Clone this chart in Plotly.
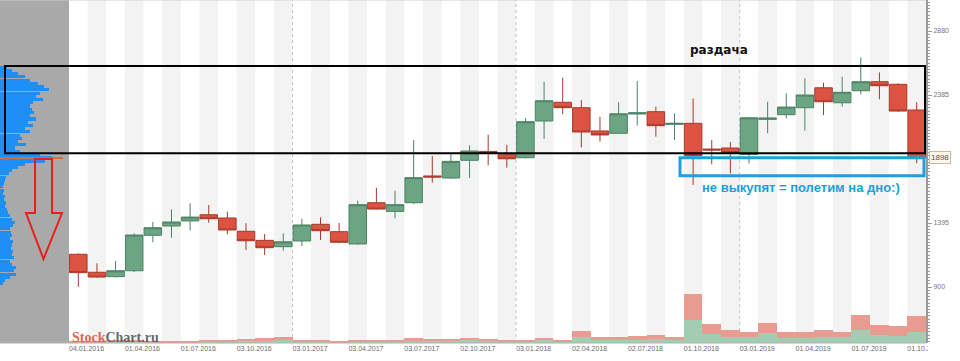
import plotly.graph_objects as go

# ---------------- data ----------------
months = ["2016-01","2016-02","2016-03","2016-04","2016-05","2016-06","2016-07","2016-08","2016-09","2016-10","2016-11","2016-12",
          "2017-01","2017-02","2017-03","2017-04","2017-05","2017-06","2017-07","2017-08","2017-09","2017-10","2017-11","2017-12",
          "2018-01","2018-02","2018-03","2018-04","2018-05","2018-06","2018-07","2018-08","2018-09","2018-10","2018-11","2018-12",
          "2019-01","2019-02","2019-03","2019-04","2019-05","2019-06","2019-07","2019-08","2019-09","2019-10"]
open_ = [1153,1014,980,1026,1300,1372,1411,1459,1434,1331,1261,1212,
         1256,1385,1328,1233,1552,1485,1552,1759,1743,1880,1949,1923,
         1900,2184,2329,2287,2107,2089,2238,2256,2158,2166,1967,1975,
         1925,2197,2233,2287,2441,2325,2418,2488,2468,2269]
high = [1161,1083,1101,1315,1403,1501,1547,1534,1483,1393,1310,1315,
        1428,1439,1395,1568,1668,1645,2037,1913,1929,1996,2078,1998,
        2209,2488,2519,2346,2217,2329,2493,2295,2243,2359,2037,2021,
        2215,2333,2398,2514,2480,2527,2676,2560,2475,2329]
low = [902,972,975,1016,1246,1281,1338,1397,1308,1186,1148,1181,
       1217,1264,1238,1228,1500,1431,1542,1707,1738,1743,1841,1823,
       1895,2045,2236,1980,2024,2085,2148,2063,2037,1689,1849,1779,
       1857,2089,2205,2109,2230,2295,2390,2352,2255,1857]
close = [1011,977,1026,1302,1359,1403,1441,1428,1341,1258,1204,1250,
         1380,1336,1246,1537,1503,1537,1746,1751,1872,1952,1936,1892,
         2179,2341,2287,2099,2076,2240,2248,2148,2166,1916,1960,1939,
         2209,2207,2292,2385,2333,2406,2488,2457,2261,1898]

vol_buy = [7,7,10,10,7,7,7,17,17,20,23,27,
           13,13,7,13,13,13,23,17,20,27,20,13,
           13,27,17,57,30,30,33,40,30,233,93,60,
           60,100,47,53,60,57,130,83,70,113]
vol_sell = [7,10,13,13,10,10,7,17,17,20,23,30,
            17,13,10,17,17,17,27,20,23,27,23,17,
            17,27,17,60,33,33,40,43,30,257,100,67,
            50,100,60,53,67,57,153,93,100,153]

tick_months = ["2016-01","2016-04","2016-07","2016-10","2017-01","2017-04","2017-07","2017-10",
               "2018-01","2018-04","2018-07","2018-10","2019-01","2019-04","2019-07","2019-10"]
tick_labels = ["04.01.2016","01.04.2016","01.07.2016","03.10.2016","03.01.2017","03.04.2017","03.07.2017","02.10.2017",
               "03.01.2018","02.04.2018","02.07.2018","01.10.2018","03.01.2019","01.04.2019","01.07.2019","01.10.2019"]
y_ticks = [900, 1395, 2385, 2880]
last_price = 1898

profile_prices = [2600,2575,2550,2525,2500,2475,2450,2425,2400,2375,
                  2350,2325,2300,2275,2250,2225,2200,2175,2150,2125,
                  2100,2075,2050,2025,2000,1975,1950,1925,1900,1875,
                  1850,1825,1800,1775,1750,1725,1700,1675,1650,1625,
                  1600,1575,1550,1525,1500,1475,1450,1425,1400,1375,
                  1350,1325,1300,1275,1250,1225,1200,1175,1150,1125,
                  1100,1075,1050,1025,1000,975,950,925]
profile_vol = [7,12,18,25,30,38,44,49,40,36,
               43,33,30,32,34,30,36,28,33,25,
               30,20,22,18,26,15,20,40,52,45,
               25,18,12,9,6,5,4,3,4,3,
               5,4,6,5,7,8,10,12,15,13,
               10,11,12,10,13,12,11,13,12,14,
               10,12,16,14,16,10,5,3]

# box levels (price) drawn by the author
box_top, box_bot = 2610, 1935
blue_top, blue_bot = 1900, 1761

# ---------------- layout geometry ----------------
W, H = 960, 361
ML, MR, MT, MB = 0, 34, 0, 18
PW, PH = W - ML - MR, H - MT - MB
PANEL = 69  # width of the left volume-profile panel, px


def px(x):
    return x / PW


def py(y):
    return 1 - y / PH


idx = list(range(len(months)))

fig = go.Figure()

# volume profile (left panel)
fig.add_trace(go.Bar(x=profile_vol, y=profile_prices, orientation="h", xaxis="x2", yaxis="y",
                     marker=dict(color="#1e8ff5", line=dict(width=0)), width=24, hoverinfo="skip",
                     showlegend=False))

# candles
fig.add_trace(go.Candlestick(x=idx, open=open_, high=high, low=low, close=close,
                             increasing=dict(fillcolor="#6ba584", line=dict(color="#4c8264", width=1)),
                             decreasing=dict(fillcolor="#dc5441", line=dict(color="#a53a2c", width=1)),
                             whiskerwidth=0, xaxis="x", yaxis="y", showlegend=False))

# volumes
fig.add_trace(go.Bar(x=idx, y=vol_buy, xaxis="x", yaxis="y2", width=1.0,
                     marker=dict(color="#a3cdb3", line=dict(width=0)), showlegend=False))
fig.add_trace(go.Bar(x=idx, y=vol_sell, xaxis="x", yaxis="y2", width=1.0,
                     marker=dict(color="#e89c91", line=dict(width=0)), showlegend=False))

shapes = []
# alternating month stripes
for i in idx:
    if i % 2 == 1:
        shapes.append(dict(type="rect", xref="x", yref="paper", x0=i - 0.5, x1=i + 0.5, y0=0, y1=1,
                           fillcolor="#f3f3f3", line=dict(width=0), layer="below"))
# year separators
for i, m in enumerate(months):
    if m.endswith("-01") and i > 0:
        shapes.append(dict(type="line", xref="x", yref="paper", x0=i - 0.5, x1=i - 0.5, y0=0, y1=1,
                           line=dict(color="#c4c4c4", width=1, dash="dot"), layer="below"))
# grey left panel
shapes.append(dict(type="rect", xref="paper", yref="paper", x0=0, x1=px(PANEL), y0=0, y1=1,
                   fillcolor="#a9a9a9", line=dict(width=0), layer="below"))
# top border
shapes.append(dict(type="line", xref="paper", yref="paper", x0=0, x1=1, y0=1, y1=1,
                   line=dict(color="#cfcfcf", width=1)))
# bottom border
shapes.append(dict(type="line", xref="paper", yref="paper", x0=0, x1=1, y0=0, y1=0,
                   line=dict(color="#b0b0b0", width=1)))
# last price line in profile
shapes.append(dict(type="line", xref="paper", yref="y", x0=0, x1=px(63), y0=last_price, y1=last_price,
                   line=dict(color="#d07040", width=2)))
# black distribution box
shapes.append(dict(type="rect", xref="paper", yref="y", x0=px(5), x1=px(925), y0=box_bot, y1=box_top,
                   line=dict(color="#000000", width=2), fillcolor="rgba(0,0,0,0)"))
# blue box
shapes.append(dict(type="rect", xref="paper", yref="y", x0=px(680), x1=px(924), y0=blue_bot, y1=blue_top,
                   line=dict(color="#1ea0e0", width=3), fillcolor="rgba(0,0,0,0)"))
# red arrow
pts = [(35, 159), (52, 159), (52, 213), (62, 213), (43.5, 259), (26, 213), (35, 213)]
path = "M " + " L ".join(f"{px(a):.5f},{py(b):.5f}" for a, b in pts) + " Z"
shapes.append(dict(type="path", xref="paper", yref="paper", path=path,
                   line=dict(color="#e8201a", width=2), fillcolor="rgba(0,0,0,0)"))
# clip of the last date label under the price scale
shapes.append(dict(type="rect", xref="paper", yref="paper", x0=1.002, x1=1.04, y0=-0.06, y1=-0.003,
                   fillcolor="white", line=dict(width=0), layer="above"))

annotations = [
    dict(text="<b>раздача</b>", xref="paper", yref="paper", x=px(719), y=py(50), showarrow=False,
         xanchor="center", yanchor="middle",
         font=dict(family="DejaVu Sans", size=12, color="#111111")),
    dict(text="<b>не выкупят = полетим на дно:)</b>", xref="paper", yref="paper", x=px(801), y=py(187),
         xanchor="center", yanchor="middle",
         showarrow=False, font=dict(family="Liberation Sans, Arial", size=13, color="#1a9fe0")),
    dict(text="<span style='color:#e05545'>Stock</span><span style='color:#5a5a5a'>Chart.ru</span>",
         xref="paper", yref="paper", x=px(70), y=py(337), xanchor="left", yanchor="middle", showarrow=False,
         font=dict(family="Liberation Serif, DejaVu Serif", size=14, weight="bold"), opacity=0.9),
    dict(text=str(last_price), xref="paper", yref="y", x=1.003, y=last_price, xanchor="left", yanchor="middle",
         showarrow=False, bgcolor="#faf6ec", bordercolor="#c9b99b", borderwidth=1, borderpad=1,
         font=dict(family="Liberation Sans, Arial", size=8, color="#555555")),
]

tick_vals = [months.index(m) - 0.5 for m in tick_months]

fig.update_layout(
    width=W, height=H, margin=dict(l=ML, r=MR, t=MT, b=MB),
    paper_bgcolor="white", plot_bgcolor="white",
    showlegend=False, barmode="stack", bargap=0, boxgap=0.06, boxgroupgap=0,
    shapes=shapes, annotations=annotations,
    xaxis=dict(domain=[px(PANEL), 1], range=[-0.5, len(months) - 0.5], anchor="y",
               tickvals=tick_vals, ticktext=tick_labels, ticklabelposition="outside right",
               ticks="", showgrid=False, zeroline=False, showline=False,
               tickfont=dict(family="Liberation Sans, Arial", size=7, color="#6a6a6a"),
               rangeslider=dict(visible=False), fixedrange=True),
    xaxis2=dict(domain=[0, px(PANEL)], range=[0, PANEL], anchor="y", visible=False, fixedrange=True),
    yaxis=dict(domain=[0, 1], range=[467, 3120], side="right", anchor="x",
               tickvals=y_ticks, ticktext=[str(v) for v in y_ticks],
               showgrid=False, zeroline=False, showline=True, linecolor="#9a9a9a", linewidth=2,
               ticks="outside", ticklen=4, tickcolor="#9a9a9a",
               minor=dict(ticks="outside", ticklen=2, tick0=900, dtick=24.75, tickcolor="#9a9a9a", showgrid=False),
               tickfont=dict(family="Liberation Sans, Arial", size=7, color="#777777"), fixedrange=True),
    yaxis2=dict(domain=[0, 1], range=[0, PH * 10], overlaying="y", anchor="x", visible=False, fixedrange=True),
)

fig.write_html("out.html", config={"displayModeBar": False},
               post_script="document.body.style.margin='0';document.body.style.padding='0';")
